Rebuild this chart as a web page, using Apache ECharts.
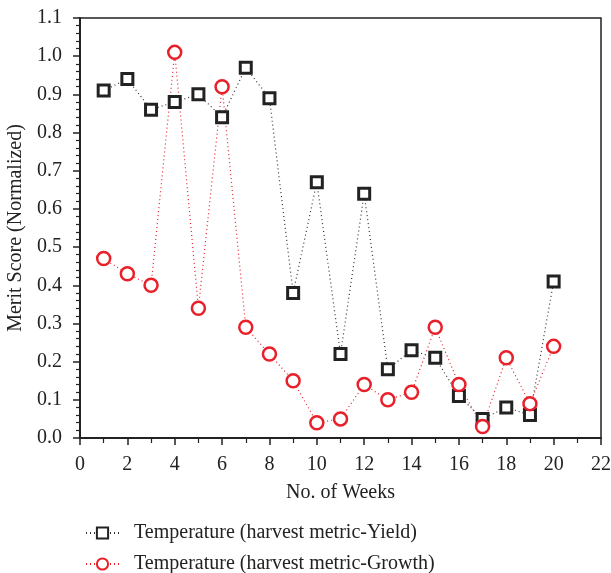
<!DOCTYPE html>
<html><head><meta charset="utf-8">
<script src="https://cdn.jsdelivr.net/npm/echarts@6/dist/echarts.min.js"></script>
<style>html,body{margin:0;padding:0;background:#fff}#c{width:611px;height:573px}</style>
</head><body><div id="c"></div>
<script>
const weeks = [1,2,3,4,5,6,7,8,9,10,11,12,13,14,15,16,17,18,19,20];
const yieldVals = [0.91,0.94,0.86,0.88,0.90,0.84,0.97,0.89,0.38,0.67,0.22,0.64,0.18,0.23,0.21,0.11,0.05,0.08,0.06,0.41];
const growthVals = [0.47,0.43,0.40,1.01,0.34,0.92,0.29,0.22,0.15,0.04,0.05,0.14,0.10,0.12,0.29,0.14,0.03,0.21,0.09,0.24];
const seriesNames = ['Temperature (harvest metric-Yield)','Temperature (harvest metric-Growth)'];
const FONT = 'Liberation Serif';
const chart = echarts.init(document.getElementById('c'), null, {renderer:'canvas'});
const axisCommon = {
  axisLine:{show:true,onZero:false,lineStyle:{color:'#222',width:2}},
  axisTick:{show:true,inside:false,length:7,lineStyle:{color:'#222',width:1.5}},
  splitLine:{show:false},
  nameTextStyle:{color:'#222',fontFamily:FONT,fontSize:20}
};
const legendCommon = {
  left:80,itemWidth:33,itemHeight:14,
  textStyle:{color:'#222',fontFamily:FONT,fontSize:20,padding:[0,0,0,10]}
};
chart.setOption({
  animation:false,
  backgroundColor:'#fff',
  grid:{left:80,right:10,top:18,bottom:135,containLabel:false,outerBoundsMode:'none',show:true,borderColor:'#222',borderWidth:1.5,backgroundColor:'transparent'},
  xAxis:Object.assign({type:'value',min:0,max:22,interval:2,name:'No. of Weeks',nameLocation:'middle',nameGap:45},axisCommon,
    {minorTick:{show:true,splitNumber:2,length:5,lineStyle:{color:'#222',width:1.2}},
     axisLabel:{color:'#222',fontFamily:FONT,fontSize:20,margin:17}}),
  yAxis:Object.assign({type:'value',min:0,max:1.1,interval:0.1,name:'Merit Score (Normalized)',nameLocation:'middle',nameGap:52},axisCommon,
    {minorTick:{show:true,splitNumber:5,length:4,lineStyle:{color:'#222',width:1.2}},
     axisLabel:{color:'#222',fontFamily:FONT,fontSize:20,margin:18,formatter:v=>v.toFixed(1)}}),
  legend:[
    Object.assign({top:518,data:[seriesNames[0]]},legendCommon),
    Object.assign({top:549,data:[seriesNames[1]]},legendCommon)
  ],
  series:[
    {name:seriesNames[0],type:'line',data:weeks.map((w,i)=>[w,yieldVals[i]]),
     symbol:'rect',symbolSize:11,
     itemStyle:{color:'#fff',borderColor:'#222',borderWidth:3},
     lineStyle:{color:'#333',width:1.2,type:[1,3]}},
    {name:seriesNames[1],type:'line',data:weeks.map((w,i)=>[w,growthVals[i]]),
     symbol:'circle',symbolSize:13,
     itemStyle:{color:'#fff',borderColor:'#e8202a',borderWidth:2.5},
     lineStyle:{color:'#e8202a',width:1.2,type:[1,3]}}
  ]
});
</script></body></html>
